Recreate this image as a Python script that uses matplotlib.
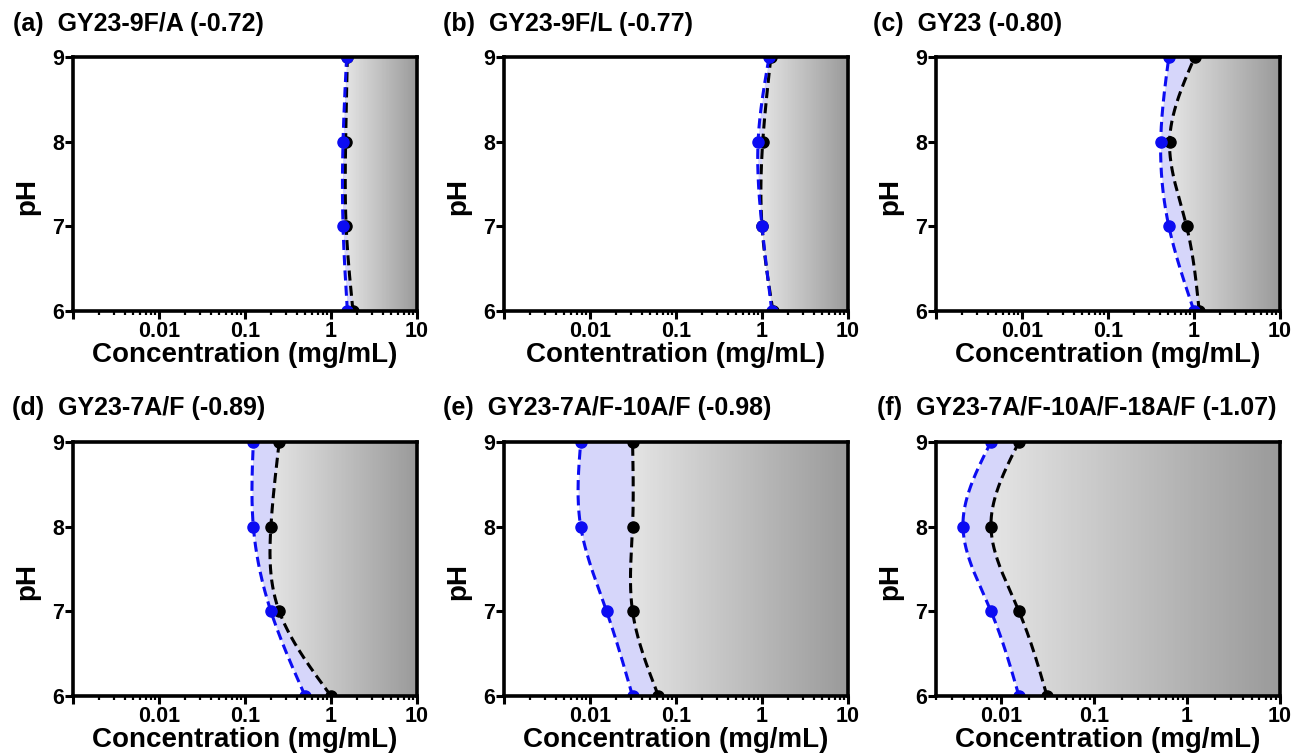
import numpy as np
import matplotlib
matplotlib.use("Agg")
import matplotlib.pyplot as plt
from matplotlib.patches import Polygon
from matplotlib.colors import LinearSegmentedColormap
from matplotlib.ticker import LogLocator, FixedLocator, NullFormatter, FixedFormatter

plt.rcParams['font.family'] = ['Liberation Sans', 'DejaVu Sans']
plt.rcParams['font.weight'] = 'bold'

ph = [6, 7, 8, 9]
titles = ["(a)  GY23-9F/A (-0.72)", "(b)  GY23-9F/L (-0.77)", "(c)  GY23 (-0.80)",
          "(d)  GY23-7A/F (-0.89)", "(e)  GY23-7A/F-10A/F (-0.98)",
          "(f)  GY23-7A/F-10A/F-18A/F (-1.07)"]
xlabels = ["Concentration (mg/mL)", "Contentration (mg/mL)", "Concentration (mg/mL)",
           "Concentration (mg/mL)", "Concentration (mg/mL)", "Concentration (mg/mL)"]
# values ordered by pH 6, 7, 8, 9
blue_a = [1.55, 1.38, 1.38, 1.52]
black_a = [1.8, 1.5, 1.48, 1.55]
blue_b = [1.30, 1.0, 0.90, 1.21]
black_b = [1.34, 1.0, 1.02, 1.27]
blue_c = [1.0, 0.51, 0.41, 0.51]
black_c = [1.15, 0.82, 0.52, 1.02]
blue_d = [0.5, 0.2, 0.125, 0.125]
black_d = [1.0, 0.25, 0.2, 0.25]
blue_e = [0.03125, 0.0156, 0.0078, 0.0078]
black_e = [0.0625, 0.03125, 0.03125, 0.03125]
blue_f = [0.0156, 0.0078, 0.0039, 0.0078]
black_f = [0.03125, 0.0156, 0.0078, 0.0156]
blues = [blue_a, blue_b, blue_c, blue_d, blue_e, blue_f]
blacks = [black_a, black_b, black_c, black_d, black_e, black_f]
xmins = [0.001, 0.001, 0.001, 0.001, 0.001, 0.002]
xmax = 10
xtick_vals = [0.001, 0.01, 0.1, 1, 10]
xtick_labels = ["", "0.01", "0.1", "1", "10"]


def natural_spline(t, v, tt):
    t = np.asarray(t, float); v = np.asarray(v, float)
    n = len(t); h = np.diff(t)
    A = np.zeros((n, n)); r = np.zeros(n)
    A[0, 0] = 1; A[-1, -1] = 1
    for i in range(1, n - 1):
        A[i, i - 1] = h[i - 1]; A[i, i] = 2 * (h[i - 1] + h[i]); A[i, i + 1] = h[i]
        r[i] = 6 * ((v[i + 1] - v[i]) / h[i] - (v[i] - v[i - 1]) / h[i - 1])
    M = np.linalg.solve(A, r)
    out = np.empty_like(tt)
    for k, x in enumerate(tt):
        i = min(max(np.searchsorted(t, x) - 1, 0), n - 2)
        a = t[i + 1] - x; b = x - t[i]
        out[k] = (M[i] * a ** 3 + M[i + 1] * b ** 3) / (6 * h[i]) + \
                 (v[i] / h[i] - M[i] * h[i] / 6) * a + (v[i + 1] / h[i] - M[i + 1] * h[i] / 6) * b
    return out


cmap = LinearSegmentedColormap.from_list("g", ["#e4e4e4", "#9a9a9a"])
fig = plt.figure(figsize=(12.93, 7.55), dpi=100)
W, H = 1293, 755
lefts = [73, 504, 936]
tops = [57, 442]
aw, ah = 344, 254
title_pos = [(13, 24), (443, 24), (873, 24), (12, 408), (443, 408), (877, 408)]

blue_col = "#0c0cf2"
fill_col = "#d6d6fa"

for k in range(6):
    r, c = divmod(k, 3)
    ax = fig.add_axes([lefts[c] / W, 1 - (tops[r] + ah) / H, aw / W, ah / H])
    ax.set_xscale("log")
    x0 = xmins[k]
    yy = np.linspace(6, 9, 300)
    bl = 10 ** natural_spline(ph, np.log10(blues[k]), yy)
    bk = 10 ** natural_spline(ph, np.log10(blacks[k]), yy)
    # gradient region right of black curve
    xl = bk.min()
    xe = np.logspace(np.log10(xl), np.log10(xmax), 200)
    C = np.linspace(0, 1, len(xe) - 1)[None, :]
    mesh = ax.pcolormesh(xe, [6, 9], C, cmap=cmap, shading="flat", zorder=1)
    verts = np.column_stack([np.concatenate([bk, [xmax * 2, xmax * 2]]),
                             np.concatenate([yy, [9, 6]])])
    poly = Polygon(verts, closed=True, transform=ax.transData, facecolor="none", edgecolor="none")
    ax.add_patch(poly)
    mesh.set_clip_path(poly)
    ax.fill_betweenx(yy, bl, bk, color=fill_col, linewidth=0, zorder=2)
    ax.plot(bk, yy, color="black", lw=2.2, dashes=(3.3, 1.7), zorder=3)
    ax.plot(blacks[k], ph, "o", color="black", ms=8, zorder=4)
    ax.plot(bl, yy, color=blue_col, lw=2.2, dashes=(3.3, 1.7), zorder=5)
    ax.plot(blues[k], ph, "o", color=blue_col, ms=8, zorder=6)

    ax.set_xlim(x0, xmax)
    ax.set_ylim(6, 9)
    ax.xaxis.set_major_locator(FixedLocator(xtick_vals))
    ax.xaxis.set_major_formatter(FixedFormatter(xtick_labels))
    ax.xaxis.set_minor_locator(LogLocator(base=10, subs=np.arange(2, 10)))
    ax.xaxis.set_minor_formatter(NullFormatter())
    ax.set_yticks([6, 7, 8, 9])
    for s in ax.spines.values():
        s.set_linewidth(2.6)
        s.set_zorder(10)
    ax.tick_params(axis="both", which="major", direction="out", length=5.5, width=2.2,
                   labelsize=15.5, pad=2)
    ax.tick_params(axis="y", which="major", pad=1)
    ax.tick_params(axis="x", which="minor", direction="out", length=3, width=1.6)
    ax.tick_params(top=False, right=False)
    ax.set_xlabel(xlabels[k], fontsize=20, fontweight="bold", labelpad=0)
    ax.set_ylabel("pH", fontsize=20, fontweight="bold")
    ax.yaxis.set_label_coords(-0.095, 0.45)
    tx, ty = title_pos[k]
    fig.text(tx / W, 1 - ty / H, titles[k], fontsize=18, fontweight="bold",
             ha="left", va="center")

fig.savefig("out.png", dpi=100)
